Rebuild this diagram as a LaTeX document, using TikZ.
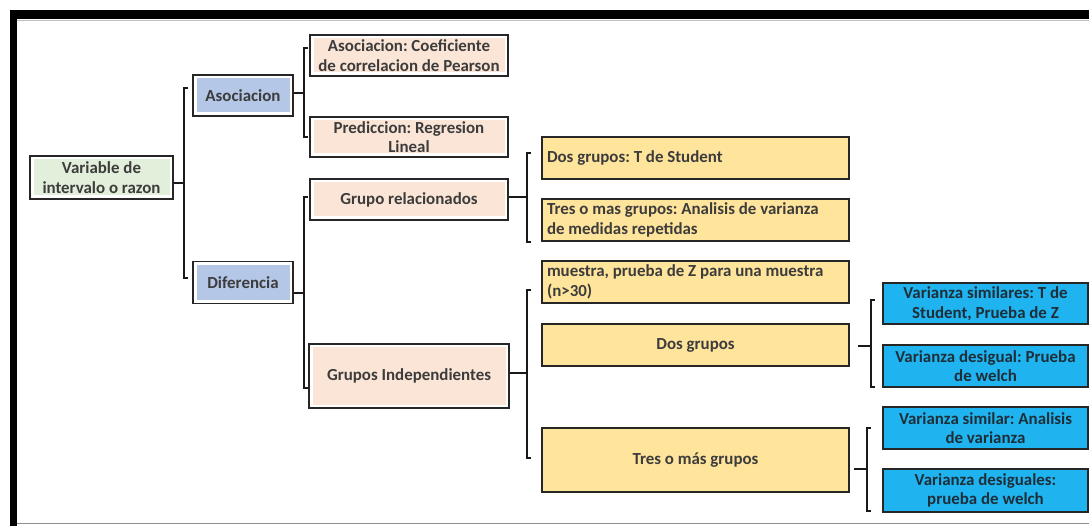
\documentclass[tikz,border=0pt]{standalone}
\usepackage{fontspec}
\setmainfont{Carlito}
\frenchspacing
\definecolor{txt}{HTML}{3C3C3C}
\definecolor{txtc}{HTML}{1E2E38}
\definecolor{greenf}{HTML}{E2EFDA}
\definecolor{bluef}{HTML}{B4C7E7}
\definecolor{peachf}{HTML}{FBE5D6}
\definecolor{yellowf}{HTML}{FFE49C}
\definecolor{cyanf}{HTML}{1FB4F0}
\tikzset{
  box/.style={draw=black!85, line width=1.8pt, inner sep=0pt, font=\bfseries\fontsize{16.9}{19.5}\selectfont, text=txt, align=center},
  inset/.style={fill=white, path picture={\fill[#1] ([shift={(3.5pt,3.5pt)}]path picture bounding box.south west) rectangle ([shift={(-3.5pt,-3.5pt)}]path picture bounding box.north east);}},
  greenbox/.style={box, inset=greenf},
  bluebox/.style={box, inset=bluef},
  peachbox/.style={box, inset=peachf},
  yellowbox/.style={box, fill=yellowf},
  leftbox/.style={yellowbox, minimum width=307pt, minimum height=42pt, text width=297pt, align=flush left},
  cyanbox/.style={box, fill=cyanf, text=txtc},
  conn/.style={draw=black!90, line width=2.2pt, line cap=butt, line join=miter},
}
\begin{document}
\begin{tikzpicture}[x=1pt,y=-1pt]
\useasboundingbox (0,0) rectangle (1089,526);
% outer frame
\fill[white] (0,0) rectangle (1089,526);
\fill[black] (10,10) rectangle (1089,19);
\fill[black] (10,10) rectangle (17,526);
\draw[black!45, line width=1.2pt] (17,523.5) -- (1089,523.5);
\draw[black!25, line width=0.8pt] (17,20) -- (1089,20);

% level 0
\node[greenbox, minimum width=143pt, minimum height=43pt] (root) at (101.5,177.5) {Variable de\\intervalo o razon};
% level 1
\node[bluebox, minimum width=100pt, minimum height=41pt] (asoc) at (243,95.5) {Asociacion};
\node[bluebox, minimum width=100pt, minimum height=42pt] (dif) at (243,282.5) {Diferencia};
% level 2
\node[peachbox, minimum width=198pt, minimum height=41pt] (coef) at (409,55.5) {Asociacion: Coeficiente\\de correlacion de Pearson};
\node[peachbox, minimum width=198pt, minimum height=40pt] (pred) at (409,137) {Prediccion: Regresion\\Lineal};
\node[peachbox, minimum width=198pt, minimum height=41pt] (grel) at (409,199.5) {Grupo relacionados};
\node[peachbox, minimum width=200pt, minimum height=64pt] (gind) at (409,376) {Grupos Independientes};
% level 3
\node[leftbox] (tstud) at (695.5,158) {Dos grupos: T de Student};
\node[leftbox] (anova) at (695.5,220) {Tres o mas grupos: Analisis de varianza\\de medidas repetidas};
\node[leftbox] (mue) at (695.5,282) {muestra, prueba de Z para una muestra\\(n>30)};
\node[yellowbox, minimum width=307pt, minimum height=42pt] (dosg) at (695.5,345) {Dos grupos};
\node[yellowbox, minimum width=307pt, minimum height=64pt] (tresg) at (695.5,460) {Tres o más grupos};
% level 4
\node[cyanbox, minimum width=205pt, minimum height=41pt] (vs1) at (985.5,303.5) {Varianza similares: T de\\Student, Prueba de Z};
\node[cyanbox, minimum width=205pt, minimum height=42pt] (vd1) at (985.5,366) {Varianza desigual: Prueba\\de welch};
\node[cyanbox, minimum width=205pt, minimum height=42pt] (vs2) at (985.5,428) {Varianza similar: Analisis\\de varianza};
\node[cyanbox, minimum width=205pt, minimum height=43pt] (vd2) at (985.5,490.5) {Varianza desiguales:\\prueba de welch};

% brackets
\coordinate (b0) at (184,183);
\draw[conn] (root.east |- b0) -- (b0);
\draw[conn] (188,88) -- (184,88) -- (184,278) -- (188,278);

\coordinate (b1) at (304,93);
\draw[conn] (asoc.east |- b1) -- (b1);
\draw[conn] (308,48) -- (304,48) -- (304,137) -- (308,137);

\coordinate (b2) at (304,293);
\draw[conn] (dif.east |- b2) -- (b2);
\draw[conn] (308,197) -- (304,197) -- (304,388) -- (308,388);

\coordinate (b3) at (527,197);
\draw[conn] (grel.east |- b3) -- (b3);
\draw[conn] (531,153) -- (527,153) -- (527,242) -- (531,242);

\coordinate (b4) at (527,373);
\draw[conn] (gind.east |- b4) -- (b4);
\draw[conn] (531,290) -- (527,290) -- (527,458) -- (531,458);

\coordinate (b5) at (871,346);
\draw[conn] ([xshift=8pt]dosg.east |- b5) -- (b5);
\draw[conn] (875,300) -- (871,300) -- (871,387) -- (875,387);

\coordinate (b6) at (867,469);
\draw[conn] ([xshift=4pt]tresg.east |- b6) -- (b6);
\draw[conn] (871,428) -- (867,428) -- (867,511) -- (871,511);
\end{tikzpicture}
\end{document}
